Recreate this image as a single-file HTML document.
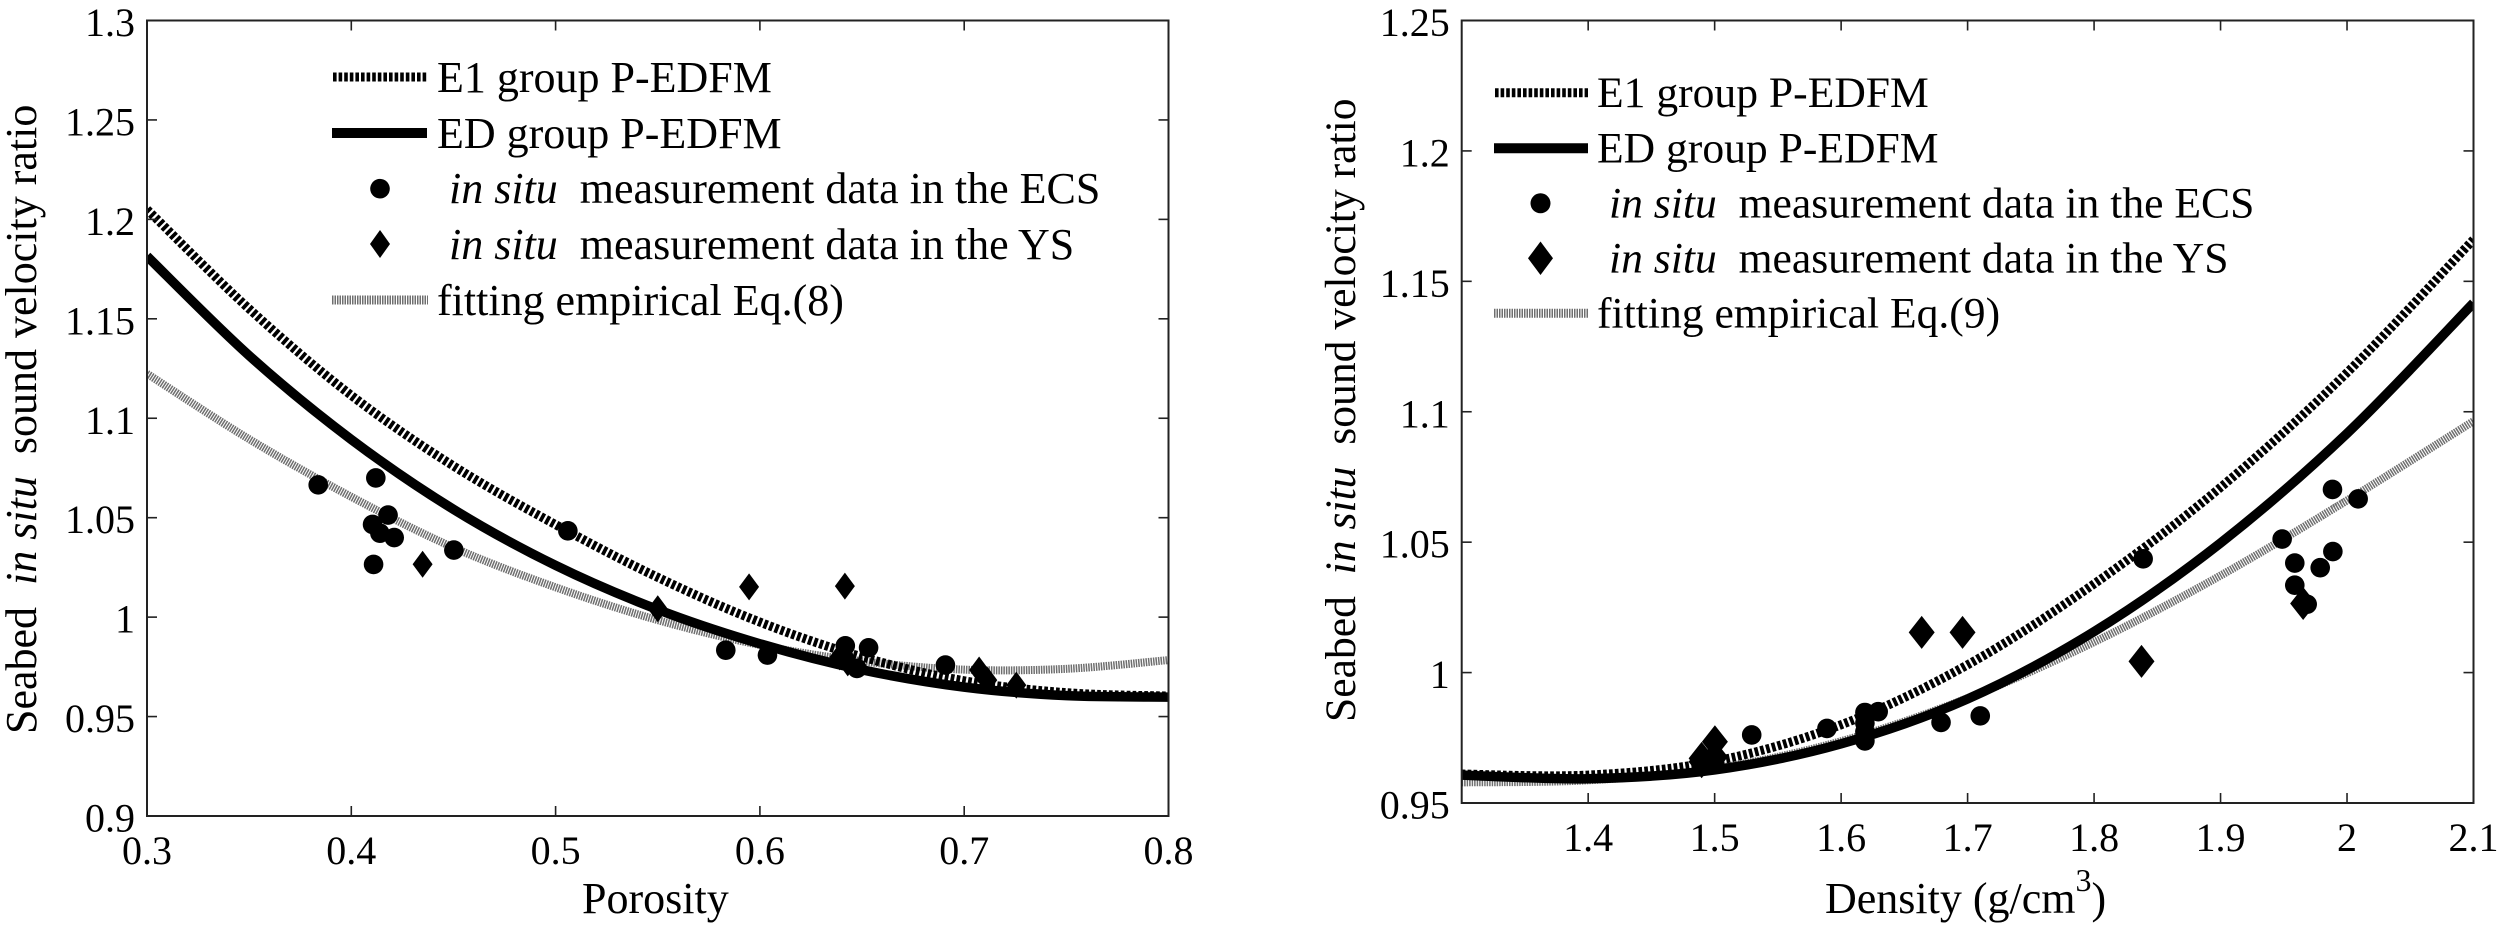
<!DOCTYPE html>
<html lang="en">
<head>
<meta charset="utf-8">
<title>Seabed in situ sound velocity ratio vs porosity and density</title>
<style>
html,body{margin:0;padding:0;background:#fff;width:2500px;height:929px;overflow:hidden}
svg{display:block}
text{font-family:"Liberation Serif","Times New Roman",serif;fill:#000;white-space:pre}
.tick{font-size:40px}
.lab{font-size:44px}
.leg{font-size:44px}
.lab2{font-size:43.6px}
.leg2{font-size:43.6px}
</style>
</head>
<body>
<svg id="figure" xmlns="http://www.w3.org/2000/svg" width="2500" height="929" viewBox="0 0 2500 929">
  <rect x="0" y="0" width="2500" height="929" fill="#fff"/>

  <g id="chartLeft"></g>
  <g id="chartRight"></g>

  <text class="lab" x="582" y="913">Porosity</text>
  <text class="lab" transform="translate(36 734) rotate(-90)">Seabed  <tspan font-style="italic">in situ</tspan>  sound velocity ratio</text>

  <g>
    <line x1="333" y1="77" x2="427" y2="77" stroke="#000" stroke-width="9" stroke-dasharray="3.6 2"/>
    <text class="leg" x="437" y="92">E1 group P-EDFM</text>
    <line x1="332" y1="133" x2="427" y2="133" stroke="#000" stroke-width="10"/>
    <text class="leg" x="437" y="148">ED group P-EDFM</text>
    <circle cx="380" cy="188.7" r="9.8" fill="#000"/>
    <text class="leg" x="449" y="203"><tspan font-style="italic">in situ</tspan>  measurement data in the ECS</text>
    <polygon points="380,230 390,244 380,258 370,244" fill="#000"/>
    <text class="leg" x="449" y="259"><tspan font-style="italic">in situ</tspan>  measurement data in the YS</text>
    <line x1="332" y1="300" x2="428" y2="300" stroke="#6f6f6f" stroke-width="9" stroke-dasharray="1.5 1"/>
    <text class="leg" x="437" y="315">fitting empirical Eq.(8)</text>
  </g>

  <text class="lab" x="1825" y="913">Density (g/cm<tspan font-size="32" dy="-22">3</tspan><tspan dy="22">)</tspan></text>
  <text class="lab2" transform="translate(1355 722) rotate(-90)">Seabed  <tspan font-style="italic">in situ</tspan>  sound velocity ratio</text>

  <g>
    <line x1="1495" y1="92.7" x2="1588" y2="92.7" stroke="#000" stroke-width="9" stroke-dasharray="3.6 2"/>
    <text class="leg2" x="1597" y="107">E1 group P-EDFM</text>
    <line x1="1494" y1="148.3" x2="1588" y2="148.3" stroke="#000" stroke-width="10"/>
    <text class="leg2" x="1597" y="162.5">ED group P-EDFM</text>
    <circle cx="1540.5" cy="203.3" r="10" fill="#000"/>
    <text class="leg2" x="1609" y="217.5"><tspan font-style="italic">in situ</tspan>  measurement data in the ECS</text>
    <polygon points="1540.5,241.5 1553,258.3 1540.5,275 1528,258.3" fill="#000"/>
    <text class="leg2" x="1609" y="272.5"><tspan font-style="italic">in situ</tspan>  measurement data in the YS</text>
    <line x1="1494" y1="313.3" x2="1588" y2="313.3" stroke="#6f6f6f" stroke-width="9" stroke-dasharray="1.5 1"/>
    <text class="leg2" x="1597" y="327.5">fitting empirical Eq.(9)</text>
  </g>
</svg>

<script>
// ---------- Porosity chart data ----------
const porXTicks = [0.3, 0.4, 0.5, 0.6, 0.7, 0.8];
const porXTickLabels = ['0.3', '0.4', '0.5', '0.6', '0.7', '0.8'];
const porYTicks = [0.9, 0.95, 1, 1.05, 1.1, 1.15, 1.2, 1.25, 1.3];
const porYTickLabels = ['0.9', '0.95', '1', '1.05', '1.1', '1.15', '1.2', '1.25', '1.3'];

const porCurveX = [0.3, 0.35, 0.4, 0.45, 0.5, 0.55, 0.6, 0.65, 0.7, 0.75, 0.8];
const porE1Y = [1.205, 1.155, 1.1115, 1.076, 1.0465, 1.02, 0.9975, 0.98, 0.968, 0.962, 0.9603];
const porEDY = [1.1815, 1.1315, 1.0893, 1.0542, 1.026, 1.0038, 0.9866, 0.9735, 0.9648, 0.9605, 0.9598];
const porFitY = [1.1224, 1.0895, 1.0605, 1.035, 1.015, 0.9985, 0.986, 0.9778, 0.9736, 0.974, 0.9784];

const porEcsX = [0.3838, 0.412, 0.418, 0.4104, 0.414, 0.421, 0.4502, 0.4109, 0.506, 0.5833, 0.6037, 0.6418, 0.641, 0.6532, 0.6908, 0.6475];
const porEcsY = [1.0665, 1.07, 1.0513, 1.0466, 1.0422, 1.04, 1.0337, 1.0265, 1.0434, 0.9834, 0.9809, 0.9856, 0.98, 0.9846, 0.9759, 0.9742];
const porYsX = [0.4349, 0.55, 0.5947, 0.6416, 0.639, 0.643, 0.7073, 0.7113, 0.7255];
const porYsY = [1.0266, 1.0042, 1.0152, 1.0156, 0.98, 0.977, 0.9734, 0.9683, 0.9658];

// ---------- Density chart data ----------
const denXTicks = [1.4, 1.5, 1.6, 1.7, 1.8, 1.9, 2, 2.1];
const denXTickLabels = ['1.4', '1.5', '1.6', '1.7', '1.8', '1.9', '2', '2.1'];
const denYTicks = [0.95, 1, 1.05, 1.1, 1.15, 1.2, 1.25];
const denYTickLabels = ['0.95', '1', '1.05', '1.1', '1.15', '1.2', '1.25'];

const denCurveX = [1.3, 1.4, 1.5, 1.6, 1.7, 1.8, 1.9, 2, 2.1];
const denE1Y = [0.9611, 0.9607, 0.966, 0.98, 1.003, 1.034, 1.071, 1.115, 1.166];
const denEDY = [0.9607, 0.9593, 0.9627, 0.9727, 0.9899, 1.0157, 1.0497, 1.0917, 1.1417];
const denFitY = [0.9579, 0.9587, 0.9632, 0.9737, 0.9902, 1.0117, 1.0372, 1.066, 1.0964];

const denEcsX = [1.9885, 2.0088, 1.9487, 1.9888, 1.9587, 1.9788, 1.9587, 1.9685, 1.8388, 1.5293, 1.5888, 1.6188, 1.6293, 1.6188, 1.6188, 1.6188, 1.679, 1.71];
const denEcsY = [1.0702, 1.0666, 1.0512, 1.0464, 1.042, 1.0402, 1.0335, 1.0262, 1.0436, 0.9761, 0.9786, 0.9847, 0.985, 0.9806, 0.9773, 0.9738, 0.9809, 0.9834];
const denYsX = [1.6637, 1.696, 1.8375, 1.9653, 1.5002, 1.4897, 1.5002, 1.4897];
const denYsY = [1.0154, 1.0154, 1.0043, 1.0265, 0.9735, 0.9671, 0.9677, 0.9658];

const NS = 'http://www.w3.org/2000/svg';

function make(parent, tag, attrs, content) {
  const node = document.createElementNS(NS, tag);
  for (const key in attrs) node.setAttribute(key, attrs[key]);
  if (content !== undefined) node.textContent = content;
  parent.appendChild(node);
  return node;
}

function smoothPath(xs, ys, sx, sy) {
  const pts = xs.map((x, i) => [sx(x), sy(ys[i])]);
  let d = 'M' + pts[0][0].toFixed(2) + ' ' + pts[0][1].toFixed(2);
  for (let i = 0; i < pts.length - 1; i++) {
    const p0 = pts[Math.max(i - 1, 0)];
    const p1 = pts[i];
    const p2 = pts[i + 1];
    const p3 = pts[Math.min(i + 2, pts.length - 1)];
    const c1x = p1[0] + (p2[0] - p0[0]) / 6;
    const c1y = p1[1] + (p2[1] - p0[1]) / 6;
    const c2x = p2[0] - (p3[0] - p1[0]) / 6;
    const c2y = p2[1] - (p3[1] - p1[1]) / 6;
    d += 'C' + c1x.toFixed(2) + ' ' + c1y.toFixed(2) + ' ' + c2x.toFixed(2) + ' ' + c2y.toFixed(2) + ' ' + p2[0].toFixed(2) + ' ' + p2[1].toFixed(2);
  }
  return d;
}

function drawChart(cfg) {
  const root = document.getElementById(cfg.id);
  const sx = v => cfg.left + (v - cfg.xMin) / (cfg.xMax - cfg.xMin) * (cfg.right - cfg.left);
  const sy = v => cfg.bottom - (v - cfg.yMin) / (cfg.yMax - cfg.yMin) * (cfg.bottom - cfg.top);

  const clipId = cfg.id + 'Clip';
  const defs = make(root, 'defs', {});
  const clip = make(defs, 'clipPath', { id: clipId });
  make(clip, 'rect', { x: cfg.left, y: cfg.top, width: cfg.right - cfg.left, height: cfg.bottom - cfg.top });

  const curves = make(root, 'g', { 'clip-path': 'url(#' + clipId + ')' });
  
  

  const fit = make(curves, 'path', { d: smoothPath(cfg.curveX, cfg.fitY, sx, sy), fill: 'none', stroke: '#6f6f6f', 'stroke-width': 8, 'stroke-dasharray': '1.5 1' });
  
  

  const e1 = make(curves, 'path', { d: smoothPath(cfg.curveX, cfg.e1Y, sx, sy), fill: 'none', stroke: '#000', 'stroke-width': 9, 'stroke-dasharray': '3.7 2.2' });
  
  

  const ed = make(curves, 'path', { d: smoothPath(cfg.curveX, cfg.edY, sx, sy), fill: 'none', stroke: '#000', 'stroke-width': 9.5 });
  
  

  cfg.ecsX.forEach((x, i) => {
    const dot = make(root, 'circle', { cx: sx(x), cy: sy(cfg.ecsY[i]), r: 9.8, fill: '#000' });
    
    
  });

  cfg.ysX.forEach((x, i) => {
    const cx = sx(x);
    const cy = sy(cfg.ysY[i]);
    const w = cfg.diamondW / 2;
    const h = cfg.diamondH / 2;
    const mark = make(root, 'polygon', { points: cx + ',' + (cy - h) + ' ' + (cx + w) + ',' + cy + ' ' + cx + ',' + (cy + h) + ' ' + (cx - w) + ',' + cy, fill: '#000' });
    
    
  });

  const frame = make(root, 'rect', { x: cfg.left, y: cfg.top, width: cfg.right - cfg.left, height: cfg.bottom - cfg.top, fill: 'none', stroke: '#222', 'stroke-width': 2 });
  
  

  cfg.xTicks.forEach((v, i) => {
    const x = sx(v);
    if (v > cfg.xMin && v < cfg.xMax) {
      const low = make(root, 'line', { x1: x, x2: x, y1: cfg.bottom, y2: cfg.bottom - 10, stroke: '#222', 'stroke-width': 1.6 });
      
      
      const high = make(root, 'line', { x1: x, x2: x, y1: cfg.top, y2: cfg.top + 10, stroke: '#222', 'stroke-width': 1.6 });
      
      
    }
    const label = make(root, 'text', { class: 'tick', x: x, y: cfg.bottom + 48, 'text-anchor': 'middle' }, cfg.xLabels[i]);
    
    
  });

  cfg.yTicks.forEach((v, i) => {
    const y = sy(v);
    if (v > cfg.yMin && v < cfg.yMax) {
      const low = make(root, 'line', { x1: cfg.left, x2: cfg.left + 10, y1: y, y2: y, stroke: '#222', 'stroke-width': 1.6 });
      
      
      const high = make(root, 'line', { x1: cfg.right, x2: cfg.right - 10, y1: y, y2: y, stroke: '#222', 'stroke-width': 1.6 });
      
      
    }
    const label = make(root, 'text', { class: 'tick', x: cfg.left - 12, y: y + 15.5, 'text-anchor': 'end' }, cfg.yLabels[i]);
    
    
  });
}

drawChart({
  id: 'chartLeft', left: 147, right: 1168.5, top: 20.5, bottom: 816,
  xMin: 0.3, xMax: 0.8, yMin: 0.9, yMax: 1.3,
  xTicks: porXTicks, xLabels: porXTickLabels, yTicks: porYTicks, yLabels: porYTickLabels,
  curveX: porCurveX, e1Y: porE1Y, edY: porEDY, fitY: porFitY,
  ecsX: porEcsX, ecsY: porEcsY, ysX: porYsX, ysY: porYsY, diamondW: 20, diamondH: 27
});

drawChart({
  id: 'chartRight', left: 1461.7, right: 2473.5, top: 20.5, bottom: 803,
  xMin: 1.3, xMax: 2.1, yMin: 0.95, yMax: 1.25,
  xTicks: denXTicks, xLabels: denXTickLabels, yTicks: denYTicks, yLabels: denYTickLabels,
  curveX: denCurveX, e1Y: denE1Y, edY: denEDY, fitY: denFitY,
  ecsX: denEcsX, ecsY: denEcsY, ysX: denYsX, ysY: denYsY, diamondW: 26, diamondH: 33
});
</script>
</body>
</html>
